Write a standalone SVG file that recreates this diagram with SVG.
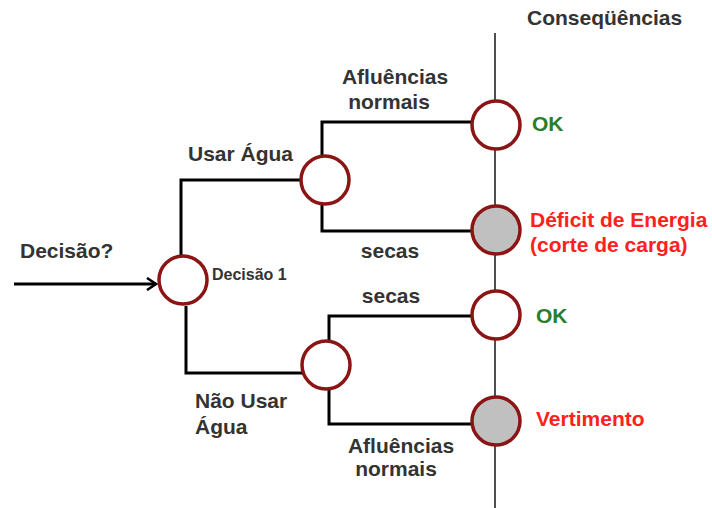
<svg xmlns="http://www.w3.org/2000/svg" width="712" height="508" viewBox="0 0 712 508">
<defs>
<style>
.t{font-family:"Liberation Sans",Arial,sans-serif;font-weight:bold;font-size:21px;fill:#333}
.g{fill:#2a7d2a}
.r{fill:#ff2020}
.c{fill:#fff;stroke:#8b1414;stroke-width:3.5}
.f{fill:#c0c0c0}
.w{fill:none;stroke:#000;stroke-width:3}
</style>
<marker id="ah" markerWidth="12" markerHeight="14" refX="10" refY="7" orient="auto" markerUnits="userSpaceOnUse">
<path d="M1,1 L10,7 L1,13" fill="none" stroke="#000" stroke-width="2.5"/>
</marker>
</defs>
<rect width="712" height="508" fill="#fff"/>
<line x1="495" y1="33" x2="495" y2="508" stroke="#222" stroke-width="1.6"/>
<g id="connectors">
<line class="w" x1="14" y1="284" x2="156" y2="284" marker-end="url(#ah)"/>
<path class="w" d="M181,256 V180 H301"/>
<path class="w" d="M186,306 V373 H303"/>
<path class="w" d="M322,156 V122 H471"/>
<path class="w" d="M322,204 V231 H471"/>
<path class="w" d="M329,341 V316 H471"/>
<path class="w" d="M329,389 V424 H471"/>
</g>
<g id="decisao1"><circle class="c" cx="183" cy="280" r="24"/><text class="t" x="212" y="280" style="font-size:16px">Decisão 1</text></g>
<g id="usar"><circle class="c" cx="325" cy="180" r="24"/></g>
<g id="naousar"><circle class="c" cx="326" cy="365" r="24"/></g>
<g id="ok1"><circle class="c" cx="496" cy="125" r="24"/></g>
<g id="deficit"><circle class="c f" cx="496" cy="230" r="24"/></g>
<g id="ok2"><circle class="c" cx="496" cy="315" r="24"/></g>
<g id="vertimento"><circle class="c f" cx="496" cy="421" r="24"/></g>
<g id="labels">
<text class="t" x="527" y="25">Conseqüências</text>
<text class="t" x="20" y="258">Decisão?</text>
<text class="t" x="188" y="161">Usar Água</text>
<text class="t" x="395" y="84" text-anchor="middle">Afluências</text>
<text class="t" x="389" y="109" text-anchor="middle">normais</text>
<text class="t" x="390" y="258" text-anchor="middle">secas</text>
<text class="t" x="391" y="303" text-anchor="middle">secas</text>
<text class="t" x="195" y="408">Não Usar</text>
<text class="t" x="195" y="434">Água</text>
<text class="t" x="401" y="453" text-anchor="middle">Afluências</text>
<text class="t" x="396" y="476" text-anchor="middle">normais</text>
<text class="t g" x="532" y="131">OK</text>
<text class="t r" x="530" y="227">Déficit de Energia</text>
<text class="t r" x="530" y="252">(corte de carga)</text>
<text class="t g" x="536" y="323">OK</text>
<text class="t r" x="536" y="426">Vertimento</text>
</g>
</svg>
